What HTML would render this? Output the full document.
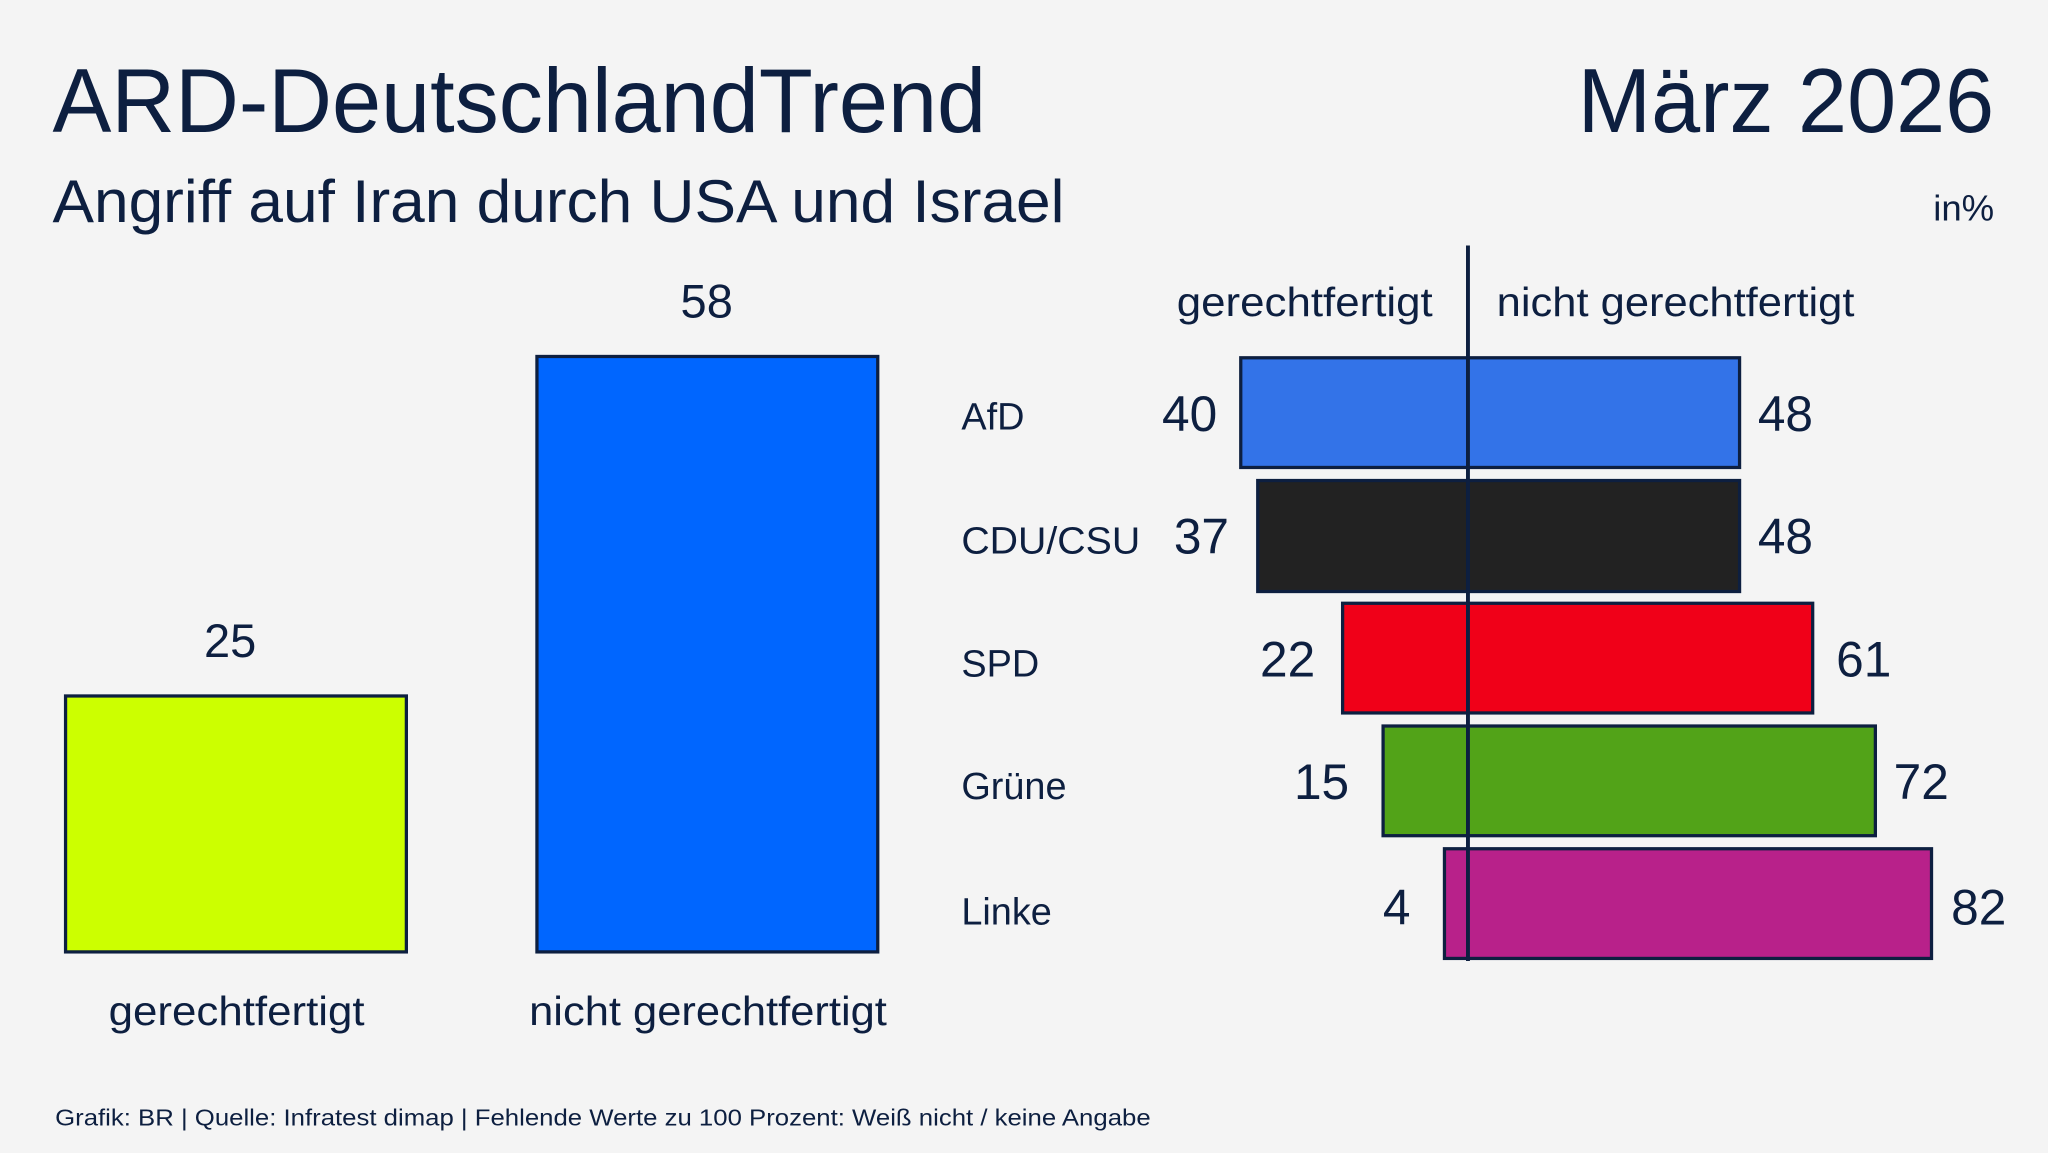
<!DOCTYPE html>
<html><head><meta charset="utf-8"><style>
html,body{margin:0;padding:0;background:#f4f4f4;}
svg{display:block}
text{font-family:"Liberation Sans",sans-serif;fill:#0d1f40;}
</style></head><body>
<svg width="2048" height="1153" viewBox="0 0 1568 883" xmlns="http://www.w3.org/2000/svg">
<rect width="1568" height="883" fill="#f4f4f4"/>
<text x="40" y="101" font-size="70" textLength="715" lengthAdjust="spacingAndGlyphs">ARD-DeutschlandTrend</text>
<text x="1208" y="101" font-size="70" textLength="319" lengthAdjust="spacingAndGlyphs">März 2026</text>
<text x="40" y="170" font-size="46" textLength="775" lengthAdjust="spacingAndGlyphs">Angriff auf Iran durch USA und Israel</text>
<text x="1527" y="169" font-size="28" text-anchor="end">in%</text>

<g stroke="#0d1f40" stroke-width="2.5">
<rect x="50" y="533" width="261" height="196" fill="#ccff00"/>
<rect x="411" y="273" width="261" height="456" fill="#0066ff"/>
</g>
<text x="176" y="503" font-size="36" text-anchor="middle">25</text>
<text x="541" y="243" font-size="36" text-anchor="middle">58</text>
<text x="181" y="785" font-size="31" text-anchor="middle" textLength="196" lengthAdjust="spacingAndGlyphs">gerechtfertigt</text>
<text x="542" y="785" font-size="31" text-anchor="middle" textLength="274" lengthAdjust="spacingAndGlyphs">nicht gerechtfertigt</text>

<text x="999" y="242" font-size="31" text-anchor="middle" textLength="196" lengthAdjust="spacingAndGlyphs">gerechtfertigt</text>
<text x="1283" y="242" font-size="31" text-anchor="middle" textLength="274" lengthAdjust="spacingAndGlyphs">nicht gerechtfertigt</text>

<g stroke="#0d1f40" stroke-width="2.5">
<rect x="950" y="274" width="382" height="84" fill="#3373e8"/>
<rect x="963" y="368" width="369" height="85" fill="#222222"/>
<rect x="1028" y="462" width="360" height="84" fill="#f00018"/>
<rect x="1059" y="556" width="377" height="84" fill="#52a318"/>
<rect x="1106" y="650" width="373" height="84" fill="#b8218a"/>
</g>
<line x1="1124" y1="188" x2="1124" y2="736" stroke="#0d1f40" stroke-width="3"/>

<g font-size="29">
<text x="736" y="329">AfD</text>
<text x="736" y="424" textLength="137" lengthAdjust="spacingAndGlyphs">CDU/CSU</text>
<text x="736" y="518">SPD</text>
<text x="736" y="612">Grüne</text>
<text x="736" y="708">Linke</text>
</g>
<g font-size="38" text-anchor="end">
<text x="932" y="330">40</text>
<text x="941" y="424">37</text>
<text x="1007" y="518">22</text>
<text x="1033" y="612">15</text>
<text x="1080" y="708">4</text>
</g>
<g font-size="38">
<text x="1346" y="330">48</text>
<text x="1346" y="424">48</text>
<text x="1406" y="518">61</text>
<text x="1450" y="612">72</text>
<text x="1494" y="708">82</text>
</g>
<text x="42" y="862" font-size="18" textLength="839" lengthAdjust="spacingAndGlyphs">Grafik: BR | Quelle: Infratest dimap | Fehlende Werte zu 100 Prozent: Weiß nicht / keine Angabe</text>
</svg>
</body></html>
